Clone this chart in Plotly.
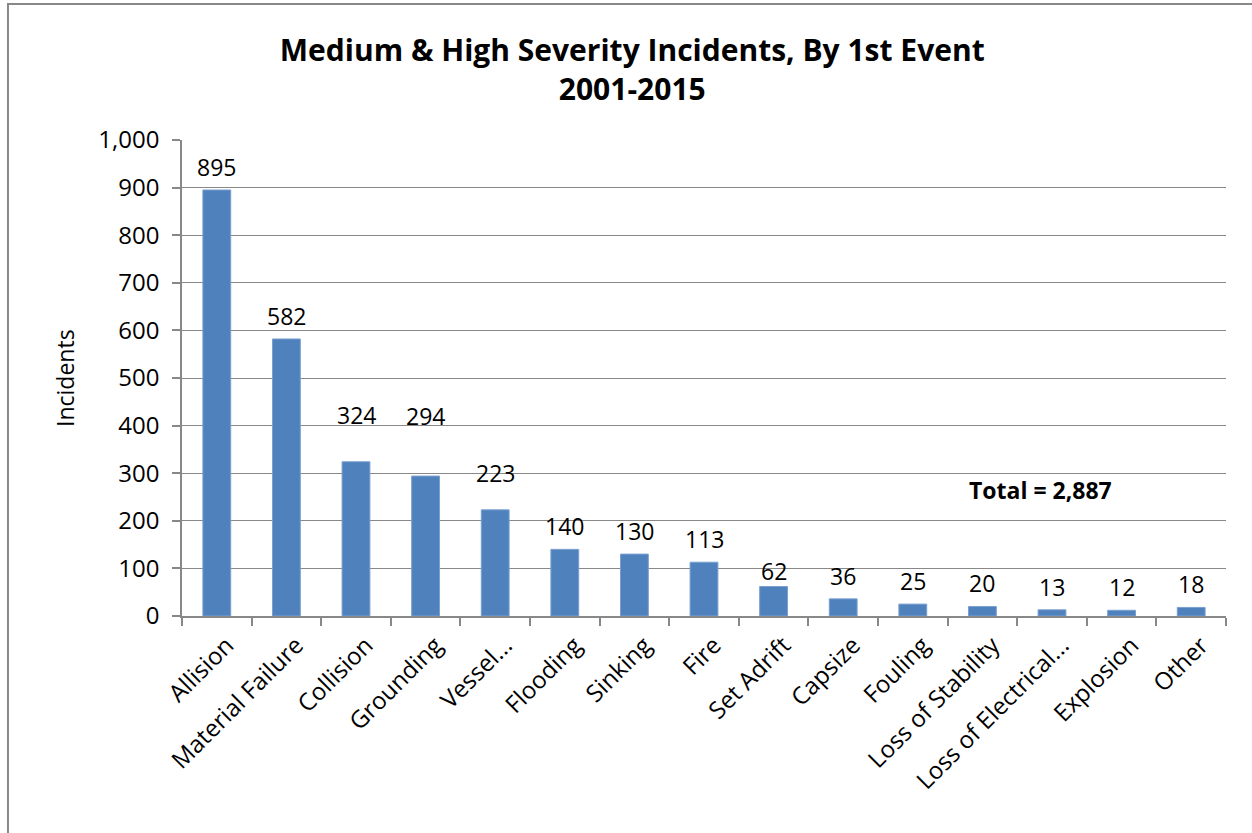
import plotly.graph_objects as go

categories = ["Allision", "Material Failure", "Collision", "Grounding", "Vessel...",
              "Flooding", "Sinking", "Fire", "Set Adrift", "Capsize", "Fouling",
              "Loss of Stability", "Loss of Electrical...", "Explosion", "Other"]
incidents = [895, 582, 324, 294, 223, 140, 130, 113, 62, 36, 25, 20, 13, 12, 18]
y_ticks = [0, 100, 200, 300, 400, 500, 600, 700, 800, 900, 1000]
y_tick_labels = ["0", "100", "200", "300", "400", "500", "600", "700", "800", "900", "1,000"]
title_text = "Medium & High Severity Incidents, By 1st Event<br>2001-2015"
total_text = "Total = 2,887"

# manual label nudges (pixels), like hand-dragged Excel data labels
label_nudge = {"Collision": 24, "Grounding": 37, "Vessel...": 14, "Set Adrift": -8}

FONT = "Open Sans"
GRID = "#888888"
BAR = "#4F81BD"

fig = go.Figure()
fig.add_trace(go.Bar(
    x=categories, y=incidents,
    marker=dict(color=BAR, line=dict(color="#7BA0D0", width=1)),
    width=0.4, hoverinfo="x+y",
))

for c, v in zip(categories, incidents):
    fig.add_annotation(x=c, y=v, xref="x", yref="y", text=str(v), showarrow=False,
                       yanchor="bottom", yshift=5 + label_nudge.get(c, 0),
                       font=dict(family=FONT, size=23, color="black"))

fig.add_annotation(x=0.822, y=265, xref="paper", yref="y", text="<b>%s</b>" % total_text,
                   showarrow=False, xanchor="center", yanchor="middle",
                   font=dict(family=FONT, size=23, color="black"))

fig.add_annotation(x=0, y=0.5, xref="paper", yref="paper", text="Incidents",
                   textangle=-90, showarrow=False, xshift=-117, xanchor="center",
                   font=dict(family=FONT, size=23, color="black"))

# outer chart frame
fig.add_shape(type="rect", xref="paper", yref="paper", x0=-0.1667, x1=1.4, y0=-0.8, y1=1.2857,
              line=dict(color="#888888", width=2), fillcolor="rgba(0,0,0,0)", layer="below")

fig.update_layout(
    width=1252, height=833,
    margin=dict(l=182, r=26, t=140, b=217, autoexpand=False),
    paper_bgcolor="white", plot_bgcolor="white",
    font=dict(family=FONT, size=24, color="black"),
    showlegend=False,
    title=dict(text="<b>%s</b>" % title_text, x=0.505, xanchor="center",
               y=0.927, yanchor="top", yref="container",
               font=dict(family=FONT, size=30, color="black")),
    xaxis=dict(type="category", tickangle=-45, showline=True, linecolor=GRID, linewidth=1.5,
               ticks="outside", tickson="boundaries", ticklen=8, tickcolor=GRID, tickwidth=1.5,
               showgrid=False, automargin=False, ticklabelshift=10, ticklabelstandoff=4,
               tickfont=dict(family=FONT, size=24, color="black")),
    yaxis=dict(range=[0, 1000], tickvals=y_ticks, ticktext=y_tick_labels,
               showline=True, linecolor=GRID, linewidth=1.5, ticks="outside", ticklen=8,
               tickcolor=GRID, tickwidth=1.5, showgrid=True, gridcolor=GRID, gridwidth=1,
               zeroline=False, automargin=False, ticklabelstandoff=8,
               tickfont=dict(family=FONT, size=24, color="black")),
)

fig.write_html("out.html")
